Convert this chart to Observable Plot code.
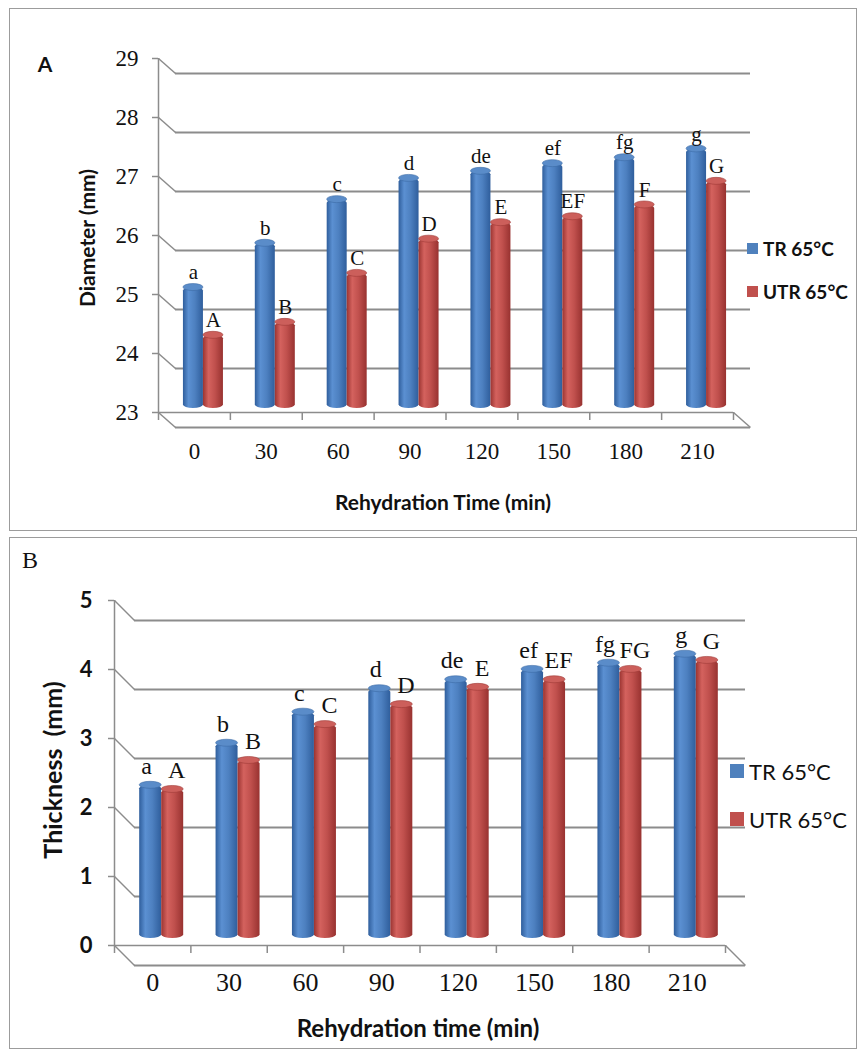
<!DOCTYPE html>
<html>
<head>
<meta charset="utf-8">
<script src="https://cdn.jsdelivr.net/npm/d3@7"></script>
<script src="https://cdn.jsdelivr.net/npm/@observablehq/plot@0.6"></script>
<style>
  html, body { margin: 0; padding: 0; background: #fff; }
  body { position: relative; width: 857px; height: 1052px; overflow: hidden; }
  .box { position: absolute; border: 1.5px solid #9c9c9c; box-sizing: border-box; }
  .abs { position: absolute; }
  .t { position: absolute; white-space: pre; transform: translate(-50%, -50%); color: #111; }
  .rot { transform: translate(-50%, -50%) rotate(-90deg); }
  .sq { position: absolute; }
  .leg { position: absolute; white-space: nowrap; transform: translateY(-50%); color: #111; }
</style>
</head>
<body>
<div class="box" style="left:9px;top:8px;width:848px;height:523px"></div>
<div class="box" style="left:9px;top:537px;width:848px;height:512px"></div>
<div id="A" class="abs" style="left:0;top:0"></div>
<div id="B" class="abs" style="left:0;top:536px"></div>
<div id="overlay"></div>
<script>
// ---------- data ----------
const times = ["0", "30", "60", "90", "120", "150", "180", "210"];
const seriesNames = ["TR 65°C", "UTR 65°C"];

const diameterTicks = [23, 24, 25, 26, 27, 28, 29];
const diameterTR  = [25.05, 25.8, 26.54, 26.9, 27.02, 27.15, 27.25, 27.4];
const diameterUTR = [24.24, 24.46, 25.29, 25.87, 26.15, 26.25, 26.45, 26.85];
const diameterLettersTR  = ["a", "b", "c", "d", "de", "ef", "fg", "g"];
const diameterLettersUTR = ["A", "B", "C", "D", "E", "EF", "F", "G"];

const thicknessTicks = [0, 1, 2, 3, 4, 5];
const thicknessTR  = [2.22, 2.83, 3.28, 3.62, 3.75, 3.9, 3.99, 4.12];
const thicknessUTR = [2.16, 2.58, 3.1, 3.39, 3.64, 3.75, 3.9, 4.03];
const thicknessLettersTR  = ["a", "b", "c", "d", "de", "ef", "fg", "g"];
const thicknessLettersUTR = ["A", "B", "C", "D", "E", "EF", "FG", "G"];

const panelLabels = ["A", "B"];
const xTitles = ["Rehydration Time (min)", "Rehydration time (min)"];
const yTitles = ["Diameter (mm)", "Thickness  (mm)"];

// ---------- drawing ----------
const GRID = "#8c8c8c";

function panel(cfg) {
  const n = times.length;
  const catPx = (cfg.width - cfg.ml - cfg.mr) / n;
  const valPx = (cfg.height - cfg.mt - cfg.mb) / (cfg.yMax - cfg.yMin);
  const DX = cfg.depth[0] / catPx, DY = cfg.depth[1] / valPx;
  const w = cfg.barW / catPx;
  const rows = times.map((t, i) => ({i, t, tr: cfg.tr[i], utr: cfg.utr[i], lt: cfg.lTR[i], lu: cfg.lUTR[i]}));
  const id = cfg.id;
  const barOpts = {rx: cfg.barW / 2, ry: 3.5, dx: cfg.shift[0], dy: cfg.shift[1]};
  const capOpts = {rx: cfg.barW / 2, ry: 3.5, insetTop: -3.5, insetBottom: -3.5, dx: cfg.shift[0], dy: cfg.shift[1]};
  const txt = {fontFamily: cfg.labelFont, fontSize: cfg.labelSize, fill: "#111", dy: cfg.shift[1] - cfg.labelOff};

  const svg = Plot.plot({
    width: cfg.width,
    height: cfg.height,
    marginLeft: cfg.ml, marginRight: cfg.mr, marginTop: cfg.mt, marginBottom: cfg.mb,
    style: {background: "transparent", overflow: "visible"},
    x: {domain: [0, n], label: null},
    y: {domain: [cfg.yMin, cfg.yMax], label: null},
    marks: [
      // back wall gridlines and side-wall diagonals
      Plot.ruleY(cfg.ticks, {y: d => d + DY, x1: DX, x2: n + DX, stroke: GRID, strokeWidth: 1.8}),
      Plot.link(cfg.ticks, {x1: 0, y1: d => d, x2: DX, y2: d => d + DY, stroke: GRID, strokeWidth: 1.5}),
      Plot.link([cfg.yMin], {x1: n, y1: d => d, x2: n + DX, y2: d => d + DY, stroke: GRID, strokeWidth: 1.5}),
      Plot.ruleY([cfg.yMin], {x1: 0, x2: n, stroke: GRID, strokeWidth: 1.5}),
      Plot.ruleX([0], {stroke: GRID, strokeWidth: 1.5}),
      // axes
      Plot.axisY(cfg.ticks, {tickSize: 6, tickPadding: cfg.yPad, tickFormat: d => String(d), stroke: GRID, strokeWidth: 1.5, fill: "#111",
        fontFamily: cfg.yFont, fontSize: cfg.ySize, fontWeight: cfg.yWeight, label: null}),
      Plot.axisX(d3.range(n + 1), {tickSize: 8, tickFormat: () => "", stroke: GRID, strokeWidth: 1.5, label: null}),
      Plot.axisX(rows.map(d => d.i + 0.5), {tickSize: 0, tickPadding: cfg.xPad, tickFormat: d => times[Math.floor(d)],
        fill: "#111", fontFamily: cfg.xFont, fontSize: cfg.xSize, label: null}),
      // cylinders
      Plot.rect(rows, {x1: d => d.i + 0.5 - w, x2: d => d.i + 0.5, y1: cfg.yMin, y2: "tr", fill: `url(#blue-${id})`, ...barOpts}),
      Plot.rect(rows, {x1: d => d.i + 0.5 - w, x2: d => d.i + 0.5, y1: "tr", y2: "tr", fill: "#5a8cc9", stroke: "#3d6ba6", strokeWidth: 0.6, ...capOpts}),
      Plot.rect(rows, {x1: d => d.i + 0.5, x2: d => d.i + 0.5 + w, y1: cfg.yMin, y2: "utr", fill: `url(#red-${id})`, ...barOpts}),
      Plot.rect(rows, {x1: d => d.i + 0.5, x2: d => d.i + 0.5 + w, y1: "utr", y2: "utr", fill: "#cc5f5b", stroke: "#a03a37", strokeWidth: 0.6, ...capOpts}),
      // significance letters
      Plot.text(rows, {x: d => d.i + 0.5 - w / 2, y: "tr", text: "lt", dx: cfg.shift[0] - cfg.labelSpread, ...txt}),
      Plot.text(rows, {x: d => d.i + 0.5 + w / 2, y: "utr", text: "lu", dx: cfg.shift[0] + cfg.labelSpread, ...txt})
    ]
  });
  d3.select(svg).insert("defs", ":first-child").html(`
    <linearGradient id="blue-${id}" x1="0" x2="1" y1="0" y2="0">
      <stop offset="0" stop-color="#2f5e9c"/>
      <stop offset="0.28" stop-color="#5b90d2"/>
      <stop offset="0.6" stop-color="#4d80c0"/>
      <stop offset="1" stop-color="#2f5e9c"/>
    </linearGradient>
    <linearGradient id="red-${id}" x1="0" x2="1" y1="0" y2="0">
      <stop offset="0" stop-color="#9b3431"/>
      <stop offset="0.28" stop-color="#d4625e"/>
      <stop offset="0.6" stop-color="#c0504d"/>
      <stop offset="1" stop-color="#983230"/>
    </linearGradient>`);
  document.getElementById(cfg.el).appendChild(svg);
}

panel({
  id: "a", el: "A", width: 857, height: 530, ml: 158, mr: 124, mt: 58, mb: 118,
  yMin: 23, yMax: 29, ticks: diameterTicks, tr: diameterTR, utr: diameterUTR,
  lTR: diameterLettersTR, lUTR: diameterLettersUTR,
  depth: [17, -15], shift: [9, -4], barW: 20,
  labelFont: "Liberation Serif", labelSize: 21, labelOff: 15, labelSpread: 0,
  yFont: "Liberation Serif", ySize: 23, yWeight: "normal", yPad: 14,
  xFont: "Liberation Serif", xSize: 23, xPad: 30
});

panel({
  id: "b", el: "B", width: 857, height: 516, ml: 114, mr: 132, mt: 64, mb: 107,
  yMin: 0, yMax: 5, ticks: thicknessTicks, tr: thicknessTR, utr: thicknessUTR,
  lTR: thicknessLettersTR, lUTR: thicknessLettersUTR,
  depth: [20, -20], shift: [9, -7], barW: 22,
  labelFont: "Liberation Serif", labelSize: 24, labelOff: 19, labelSpread: 4,
  yFont: "Lato", ySize: 22, yWeight: "bold", yPad: 16,
  xFont: "Liberation Serif", xSize: 26, xPad: 27
});

// ---------- titles and legends ----------
const ov = document.getElementById("overlay");
function addText(cls, str, style) {
  const d = document.createElement("div");
  d.className = cls;
  d.textContent = str;
  Object.assign(d.style, style);
  ov.appendChild(d);
  return d;
}
addText("t", panelLabels[0], {left: "45px", top: "63px", font: "bold 21px Lato"});
addText("t", panelLabels[1], {left: "30px", top: "560px", font: "24px 'Liberation Serif'"});
addText("t", xTitles[0], {left: "443px", top: "501px", font: "bold 21px Lato"});
addText("t rot", yTitles[0], {left: "86px", top: "238px", font: "bold 21px Lato"});
addText("t", xTitles[1], {left: "418px", top: "1027px", font: "bold 24px Lato"});
addText("t rot", yTitles[1], {left: "52px", top: "770px", font: "bold 25px Lato"});

const legendColors = ["#4f81bd", "#c0504d"];
function legend(items) {
  items.forEach((it, k) => {
    const s = document.createElement("div");
    s.className = "sq";
    Object.assign(s.style, {left: it.sx + "px", top: (it.cy - it.size / 2) + "px", width: it.size + "px", height: it.size + "px", background: legendColors[k]});
    ov.appendChild(s);
    addText("leg", seriesNames[k], {left: it.tx + "px", top: it.cy + "px", font: it.font});
  });
}
legend([
  {sx: 747, tx: 763, cy: 248, size: 11, font: "bold 19px Lato"},
  {sx: 747, tx: 763, cy: 291, size: 11, font: "bold 19px Lato"}
]);
legend([
  {sx: 730, tx: 749, cy: 771, size: 14, font: "22px Lato"},
  {sx: 730, tx: 749, cy: 819, size: 14, font: "22px Lato"}
]);
</script>
</body>
</html>
